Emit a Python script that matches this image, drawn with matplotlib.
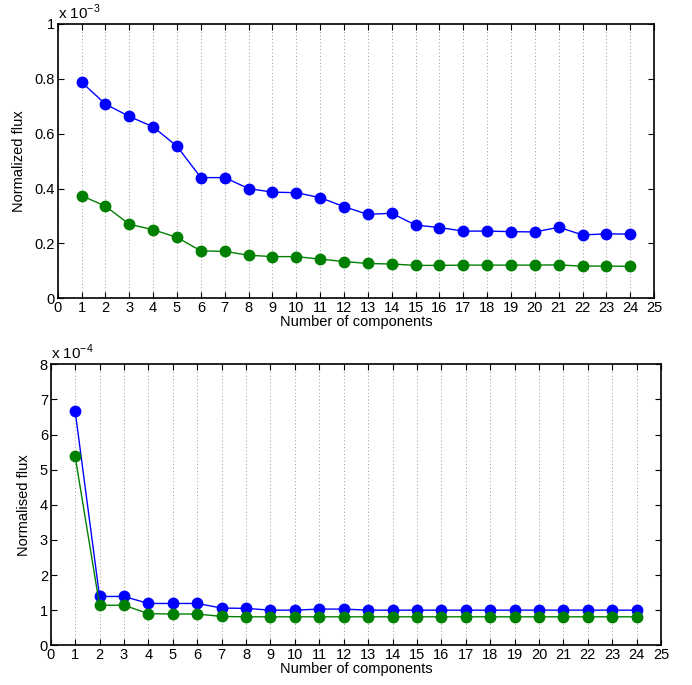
import numpy as np
import matplotlib.pyplot as plt
from matplotlib.ticker import FormatStrFormatter

plt.rcParams['font.family'] = ['Liberation Sans', 'DejaVu Sans']
plt.rcParams['font.size'] = 10
plt.rcParams['mathtext.fontset'] = 'custom'
plt.rcParams['mathtext.rm'] = 'Liberation Sans'

components = np.arange(1, 25)

# normalized flux, units of 1e-3
flux_a_top = [0.788, 0.708, 0.663, 0.625, 0.554, 0.440, 0.440, 0.400, 0.387, 0.385,
              0.367, 0.334, 0.306, 0.310, 0.267, 0.258, 0.245, 0.245, 0.243, 0.242,
              0.259, 0.231, 0.235, 0.234]
flux_b_top = [0.374, 0.336, 0.270, 0.250, 0.222, 0.173, 0.171, 0.157, 0.152, 0.152,
              0.143, 0.134, 0.127, 0.125, 0.120, 0.120, 0.121, 0.121, 0.121, 0.121,
              0.122, 0.117, 0.118, 0.116]

# normalised flux, units of 1e-4
flux_a_bot = [6.67, 1.39, 1.39, 1.19, 1.19, 1.19, 1.06, 1.05, 1.00, 1.00,
              1.03, 1.03, 1.00, 1.00, 1.00, 1.00, 1.00, 1.00, 1.00, 1.00,
              1.00, 1.00, 1.00, 1.00]
flux_b_bot = [5.38, 1.14, 1.14, 0.90, 0.89, 0.89, 0.82, 0.81, 0.81, 0.81,
              0.81, 0.81, 0.81, 0.81, 0.81, 0.81, 0.81, 0.81, 0.81, 0.81,
              0.81, 0.81, 0.81, 0.81]

blue = (0, 0, 1)
green = (0, 0.5, 0)

fig = plt.figure(figsize=(6.92, 6.85), dpi=100)
ax1 = fig.add_axes([0.0834, 0.5645, 0.862, 0.4005])
ax2 = fig.add_axes([0.0733, 0.0580, 0.882, 0.4102])


def style(ax, ymax, ystep, ylabel, exp):
    ax.set_xlim(0, 25)
    ax.set_ylim(0, ymax)
    ax.set_xticks(np.arange(0, 26))
    ax.set_yticks(np.arange(0, ymax + ystep / 2, ystep))
    ax.tick_params(direction='in', top=True, right=True, length=4, width=0.8,
                   labelsize=10.5, pad=2)
    ax.xaxis.grid(True, linestyle=(0, (1, 2.5)), color='#999999', linewidth=0.7)
    ax.set_axisbelow(True)
    for s in ax.spines.values():
        s.set_linewidth(1.2)
    ax.set_xlabel('Number of components', labelpad=0, fontsize=10.5)
    ax.set_ylabel(ylabel, labelpad=6, fontsize=10.5)
    ax.text(0.0, 1.008, r'x 10$^{\mathregular{%d}}$' % exp, transform=ax.transAxes,
            ha='left', va='bottom', fontsize=11)


ax1.plot(components, flux_a_top, '-o', color=blue, lw=1, ms=7.5)
ax1.plot(components, flux_b_top, '-o', color=green, lw=1, ms=7.5)
style(ax1, 1.0, 0.2, 'Normalized flux', -3)
ax1.yaxis.set_major_formatter(FormatStrFormatter('%g'))

ax2.plot(components, flux_a_bot, '-o', color=blue, lw=1, ms=7.5)
ax2.plot(components, flux_b_bot, '-o', color=green, lw=1, ms=7.5)
style(ax2, 8, 1, 'Normalised flux', -4)

fig.savefig('out.png', dpi=100)
